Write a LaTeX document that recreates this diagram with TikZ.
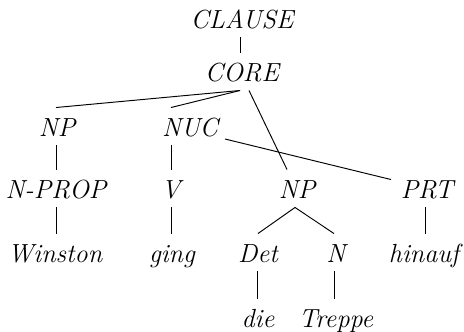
\documentclass[tikz,border=0pt]{standalone}
\usetikzlibrary{calc}
\begin{document}
\begin{tikzpicture}[x=0.42pt, y=-0.42pt,
  lbl/.style={font=\fontsize{11}{13}\selectfont\itshape, inner sep=0pt,
              anchor=base, text height=11.76pt, text depth=3.78pt},
  branch/.style={line width=0.4pt}]
\useasboundingbox (0,0) rectangle (464,331);
% labels, placed on their baselines
\node[lbl] (clause)  at (242,28)  {CLAUSE};
\node[lbl] (core)    at (242,81)  {CORE};
\node[lbl] (np1)     at (57,136)  {NP};
\node[lbl] (nuc)     at (190,136) {NUC};
\node[lbl] (nprop)   at (56,198)  {N-PROP};
\node[lbl] (v)       at (171,198) {V};
\node[lbl] (np2)     at (297,198) {NP};
\node[lbl] (prt)     at (427,198) {PRT};
\node[lbl] (winston) at (55,262)  {Winston};
\node[lbl] (ging)    at (172,262) {ging};
\node[lbl] (det)     at (258,262) {Det};
\node[lbl] (n)       at (336,262) {N};
\node[lbl] (hinauf)  at (424,262) {hinauf};
\node[lbl] (die)     at (258,327) {die};
\node[lbl] (treppe)  at (336,327) {Treppe};
% branches
\draw[branch] ($(clause.south)+(-2,0)$) -- ($(core.north)+(-2,0)$);
\draw[branch] ($(core.south)+(-2,0)$) -- ($(np1.north)+(-1,0)$);
\draw[branch] ($(core.south)+(-2,0)$) -- ($(nuc.north)+(-19,0)$);
\draw[branch] ($(core.south)+(7,0)$) -- ($(np2.north)+(-10,0)$);
\draw[branch] ($(nuc.base)+(35,3)$) -- ($(prt.north)+(-36,10)$);
\draw[branch] ($(np1.south)+(-1,0)$) -- (nprop.north);
\draw[branch] ($(nuc.south)+(-19,0)$) -- (v.north);
\draw[branch] (nprop.south) -- ($(winston.north)+(1,0)$);
\draw[branch] (v.south) -- ($(ging.north)+(-1,0)$);
\draw[branch] ($(np2.south)+(-2,0)$) -- (det.north);
\draw[branch] ($(np2.south)+(-2,0)$) -- ($(n.north)+(-2,0)$);
\draw[branch] ($(prt.south)+(-2,0)$) -- ($(hinauf.north)+(1,0)$);
\draw[branch] ($(det.south)+(-1,0)$) -- ($(die.north)+(-1,0)$);
\draw[branch] ($(n.south)+(-2,0)$) -- ($(treppe.north)+(-2,0)$);
\end{tikzpicture}
\end{document}
